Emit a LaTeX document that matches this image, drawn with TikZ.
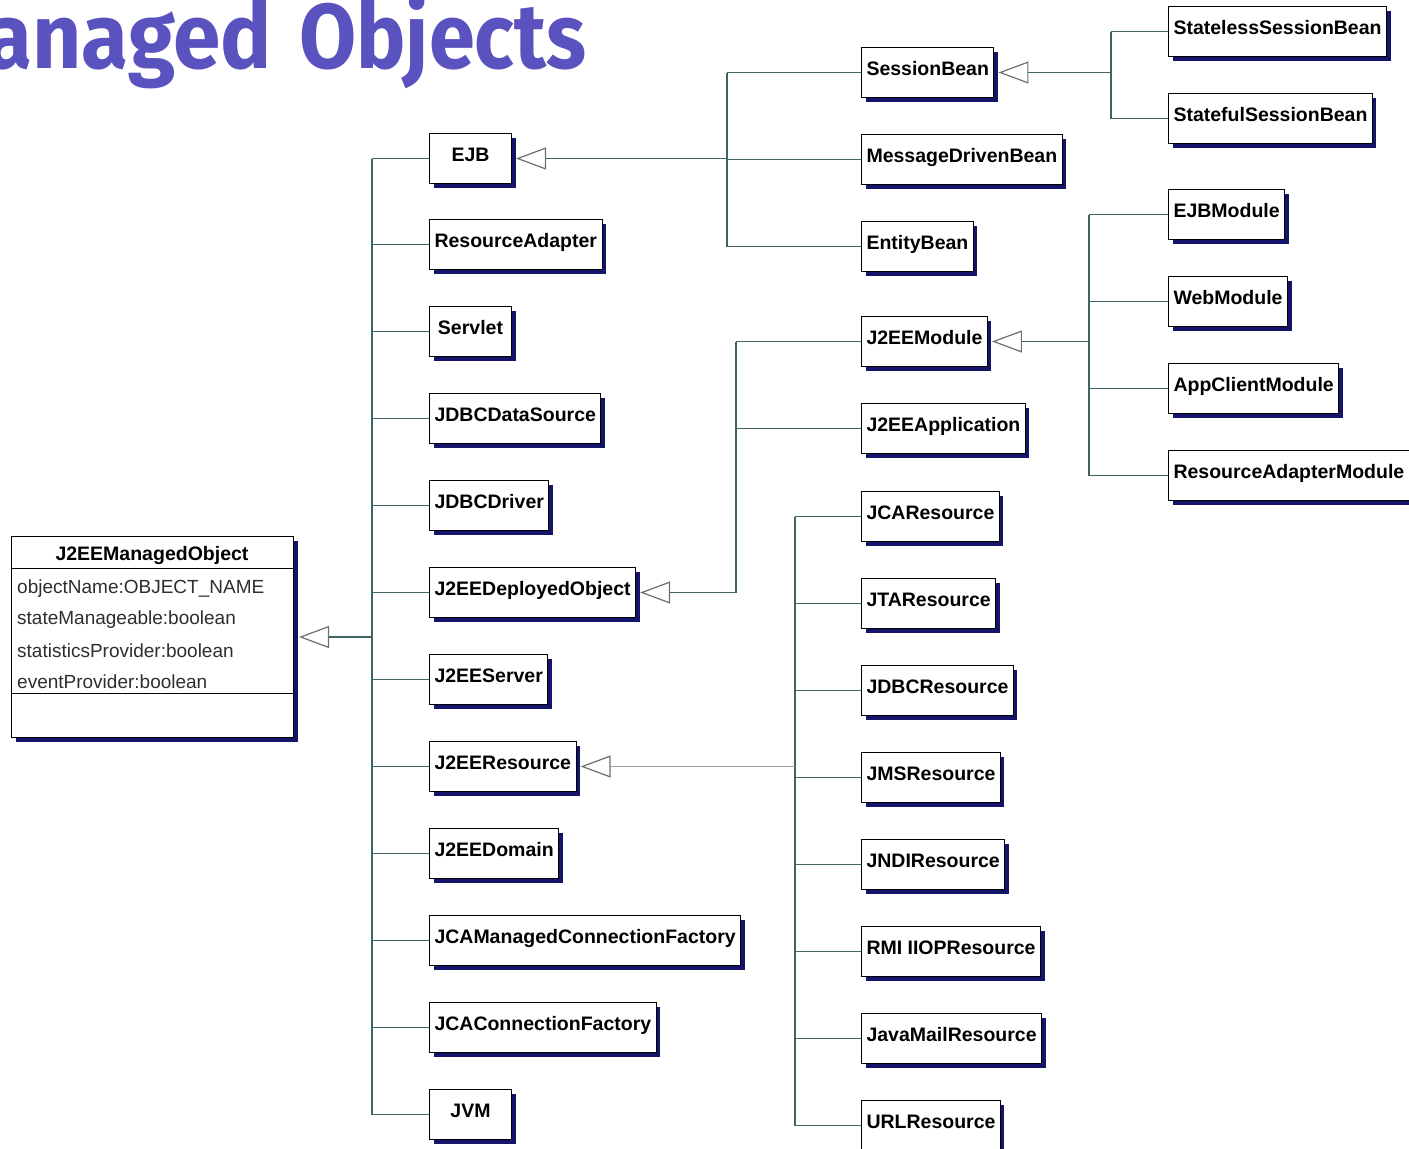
\documentclass[tikz,border=0pt]{standalone}
\usepackage{fontspec}
\setmainfont{Liberation Sans}
\newfontfamily\headfont{Fira Sans}
\usetikzlibrary{arrows.meta,shadows}
\definecolor{titleviolet}{HTML}{5A52BE}
\definecolor{shadowblue}{HTML}{14146A}
\definecolor{linkteal}{HTML}{3F6464}
\definecolor{linkgrey}{HTML}{95A3A3}
\definecolor{headgrey}{HTML}{6A6F6F}
\definecolor{attrgrey}{HTML}{2E2E2E}
\tikzset{
  cls/.style={draw=black, fill=white, line width=1pt, anchor=north west,
    font=\fontsize{19.5}{22}\selectfont\bfseries,
    minimum width=82pt, minimum height=50pt, inner xsep=5pt, inner ysep=0pt,
    text height=14pt, text depth=9pt,
    drop shadow={shadow xshift=4pt, shadow yshift=-4pt, opacity=1, fill=shadowblue}},
  link/.style={draw=linkteal, line width=1.2pt},
  gen/.style={line width=1.2pt, -{Triangle[open, length=30pt, width=22pt, line width=1.2pt, color=headgrey]}},
  attr/.style={anchor=west, inner sep=0pt, text=attrgrey, font=\fontsize{19}{22}\selectfont},
  headword/.style={inner sep=0pt, text=titleviolet, font=\headfont\bfseries\fontsize{92}{100}\selectfont},
}
\begin{document}
\begin{tikzpicture}[x=1pt, y=-1pt]
\useasboundingbox (0,0) rectangle (1409,1149);

% page heading, running off the left edge
\node[headword, anchor=base east] (heading1) at (272,68) {\scalebox{0.93}[1]{anaged}};
\node[headword, anchor=base west] (heading2) at (299,68) {\scalebox{0.9}[1]{Objects}};

% root class with its attribute compartment
\node[draw=black, fill=white, line width=1pt, anchor=north west, minimum width=282pt,
      minimum height=201pt, inner sep=0pt,
      drop shadow={shadow xshift=4pt, shadow yshift=-4pt, opacity=1, fill=shadowblue}] (jmo) at (11,536) {};
\draw[line width=1pt] ([yshift=-32pt]jmo.north west) -- ([yshift=-32pt]jmo.north east);
\draw[line width=1pt] ([yshift=-157pt]jmo.north west) -- ([yshift=-157pt]jmo.north east);
\node[inner sep=0pt, font=\fontsize{19.5}{22}\selectfont\bfseries] (jmoname) at (152,555) {J2EEManagedObject};
\node[attr] (a1) at (17,589) {objectName:OBJECT\_NAME};
\node[attr] (a2) at (17,620) {stateManageable:boolean};
\node[attr] (a3) at (17,651) {statisticsProvider:boolean};
\node[attr] (a4) at (17,682) {eventProvider:boolean};

% first level subclasses
\node[cls] (ejb)      at (429,133)  {EJB};
\node[cls] (radp)     at (429,219)  {ResourceAdapter};
\node[cls] (servlet)  at (429,306)  {Servlet};
\node[cls] (jdbcds)   at (429,393)  {JDBCDataSource};
\node[cls] (jdbcdrv)  at (429,480)  {JDBCDriver};
\node[cls] (deployed) at (429,567)  {J2EEDeployedObject};
\node[cls] (server)   at (429,654)  {J2EEServer};
\node[cls] (resource) at (429,741)  {J2EEResource};
\node[cls] (domain)   at (429,828)  {J2EEDomain};
\node[cls] (jcamcf)   at (429,915)  {JCAManagedConnectionFactory};
\node[cls] (jcacf)    at (429,1002) {JCAConnectionFactory};
\node[cls] (jvm)      at (429,1089) {JVM};

% second level subclasses
\node[cls] (session)  at (861,47)   {SessionBean};
\node[cls] (mdb)      at (861,134)  {MessageDrivenBean};
\node[cls] (entity)   at (861,221)  {EntityBean};
\node[cls] (module)   at (861,316)  {J2EEModule};
\node[cls] (app)      at (861,403)  {J2EEApplication};
\node[cls] (jca)      at (861,491)  {JCAResource};
\node[cls] (jta)      at (861,578)  {JTAResource};
\node[cls] (jdbcres)  at (861,665)  {JDBCResource};
\node[cls] (jms)      at (861,752)  {JMSResource};
\node[cls] (jndi)     at (861,839)  {JNDIResource};
\node[cls] (rmi)      at (861,926)  {RMI IIOPResource};
\node[cls] (mail)     at (861,1013) {JavaMailResource};
\node[cls] (url)      at (861,1100) {URLResource};

% third level subclasses
\node[cls] (stateless) at (1168,6)   {StatelessSessionBean};
\node[cls] (stateful)  at (1168,93)  {StatefulSessionBean};
\node[cls] (ejbmod)    at (1168,189) {EJBModule};
\node[cls] (webmod)    at (1168,276) {WebModule};
\node[cls] (appclient) at (1168,363) {AppClientModule};
\node[cls] (ramod)     at (1168,450) {ResourceAdapterModule};

% branch points of the inheritance trees
\coordinate (trunk) at (372,0);
\coordinate (jEjb)  at (727,0);
\coordinate (jSes)  at (1111,0);
\coordinate (jDep)  at (736,0);
\coordinate (jMod)  at (1089,0);
\coordinate (jRes)  at (795,0);

% J2EEManagedObject tree
\draw[link] (ejb.west -| trunk) -- (jvm.west -| trunk);
\foreach \n in {ejb,radp,servlet,jdbcds,jdbcdrv,deployed,server,resource,domain,jcamcf,jcacf,jvm}
  \draw[link] (\n.west -| trunk) -- (\n.west);
\draw[gen, draw=linkteal] (jmo.east -| trunk) -- ([xshift=5pt]jmo.east);

% EJB tree
\draw[link] (session.west -| jEjb) -- (entity.west -| jEjb);
\foreach \n in {session,mdb,entity}
  \draw[link] (\n.west -| jEjb) -- (\n.west);
\draw[gen, draw=linkteal] (ejb.east -| jEjb) -- ([xshift=4pt]ejb.east);

% SessionBean tree
\draw[link] (stateless.west -| jSes) -- (stateful.west -| jSes);
\foreach \n in {stateless,stateful}
  \draw[link] (\n.west -| jSes) -- (\n.west);
\draw[gen, draw=linkteal] (session.east -| jSes) -- ([xshift=4pt]session.east);

% J2EEDeployedObject tree
\draw[link] (module.west -| jDep) -- (deployed.east -| jDep);
\foreach \n in {module,app}
  \draw[link] (\n.west -| jDep) -- (\n.west);
\draw[gen, draw=linkteal] (deployed.east -| jDep) -- ([xshift=4pt]deployed.east);

% J2EEModule tree
\draw[link] (ejbmod.west -| jMod) -- (ramod.west -| jMod);
\foreach \n in {ejbmod,webmod,appclient,ramod}
  \draw[link] (\n.west -| jMod) -- (\n.west);
\draw[gen, draw=linkteal] (module.east -| jMod) -- ([xshift=4pt]module.east);

% J2EEResource tree
\draw[link] (jca.west -| jRes) -- (url.west -| jRes);
\foreach \n in {jca,jta,jdbcres,jms,jndi,rmi,mail,url}
  \draw[link] (\n.west -| jRes) -- (\n.west);
\draw[gen, draw=linkgrey] (resource.east -| jRes) -- ([xshift=4pt]resource.east);
\end{tikzpicture}
\end{document}
